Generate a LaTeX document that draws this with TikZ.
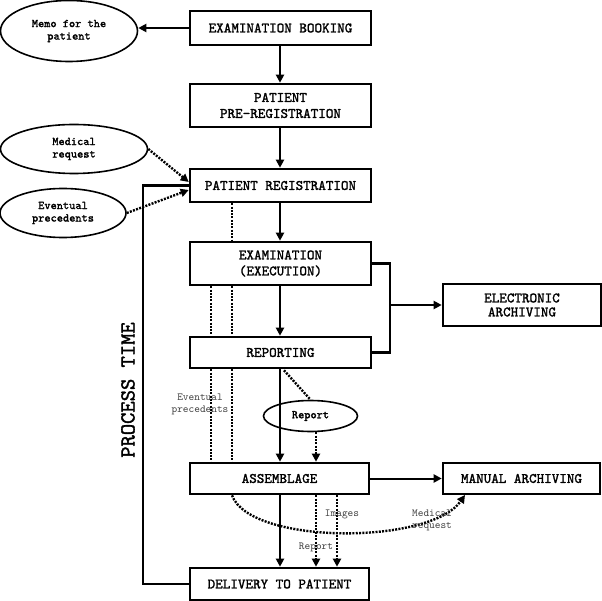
\documentclass[tikz,border=0pt]{standalone}
\usepackage{fontspec}
\newfontfamily\courb{lmmono10-regular}[Extension=.otf,FakeBold=1.6]
\newfontfamily\courr{lmmono10-regular}[Extension=.otf]
\usetikzlibrary{arrows.meta,shapes.geometric,calc}
\tikzset{
  box/.style={draw,line width=2.6pt,rectangle,inner sep=0pt,align=center,
    font=\courb\fontsize{14.4}{16}\selectfont},
  oval/.style={draw,line width=1.6pt,ellipse,inner sep=0pt,align=center,
    font=\courb\fontsize{11.8}{12.5}\selectfont},
  lbl/.style={inner sep=0pt,align=center,text=black!75,
    font=\courr\fontsize{10.8}{12}\selectfont},
  arr/.style={line width=2pt,-{Triangle[length=8pt,width=8pt]}},
  solid line/.style={line width=2.6pt},
  dotline/.style={line width=2.4pt,dash pattern=on 2pt off 1.3pt},
  dotarr/.style={dotline,-{Triangle[length=8pt,width=8pt]}},
}
\begin{document}
\begin{tikzpicture}[x=1pt,y=-1pt]
\useasboundingbox[fill=white] (0,0) rectangle (602,601);
% boxes
\node[box,minimum width=181,minimum height=34] (book) at (280.5,28) {EXAMINATION BOOKING};
\node[box,minimum width=181,minimum height=43] (prereg) at (280.5,105.5) {PATIENT\\PRE-REGISTRATION};
\node[box,minimum width=181,minimum height=33] (reg) at (280.5,185.5) {PATIENT REGISTRATION};
\node[box,minimum width=181,minimum height=43] (exam) at (280.5,263.5) {EXAMINATION\\(EXECUTION)};
\node[box,minimum width=181,minimum height=31] (rep) at (280.5,352.5) {REPORTING};
\node[box,minimum width=179,minimum height=31] (asm) at (279.5,478.5) {ASSEMBLAGE};
\node[box,minimum width=179,minimum height=32] (del) at (279.5,584) {DELIVERY TO PATIENT};
\node[box,minimum width=158,minimum height=42,font=\courb\fontsize{14.4}{14}\selectfont] (elec) at (522,305) {ELECTRONIC\\ARCHIVING};
\node[box,minimum width=157,minimum height=31] (man) at (521.5,478.5) {MANUAL ARCHIVING};
% ellipses
\node[oval,minimum width=137,minimum height=61] (memo) at (69,31) {Memo for the\\patient};
\node[oval,minimum width=147,minimum height=49] (medreq) at (74,149) {Medical\\request};
\node[oval,minimum width=126,minimum height=49] (evprec) at (63,213) {Eventual\\precedents};
\node[oval,minimum width=94,minimum height=31] (report) at (310.5,416) {Report};
% helper x positions
\coordinate (xa) at (211,0);
\coordinate (xb) at (232,0);
\coordinate (xc) at (280,0);
\coordinate (xd) at (316,0);
\coordinate (xe) at (337,0);
\coordinate (bus) at (390,305);
\coordinate (retx) at (143,0);
% main flow
\draw[arr] (book.west) -- (book.west -| memo.east);
\draw[arr] (book.south -| xc) -- (prereg.north -| xc);
\draw[arr] (prereg.south -| xc) -- (reg.north -| xc);
\draw[arr] (reg.south -| xc) -- (exam.north -| xc);
\draw[arr] (exam.south -| xc) -- (rep.north -| xc);
\draw[arr] (rep.south -| xc) -- (asm.north -| xc);
\draw[arr] (asm.south -| xc) -- (del.north -| xc);
% inputs to registration
\draw[dotarr] (medreq.east) -- ($(reg.west)+(0,-3.5)$);
\draw[dotarr] (evprec.east) -- ($(reg.west)+(0,4.5)$);
% return line
\draw[solid line] (del.west) -- (del.west -| retx) |- (reg.west);
\node[font=\courb\fontsize{21.5}{21.5}\selectfont,rotate=90,inner sep=0pt] (ptime) at (128,390) {PROCESS TIME};
% archive bus
\draw[solid line] (exam.east) -| (bus) |- (rep.east);
\draw[arr] (bus) -- (elec.west);
\draw[arr] (asm.east) -- (man.west);
% dotted verticals
\draw[dotline] (reg.south -| xb) -- (exam.north -| xb);
\draw[dotline] (exam.south -| xa) -- (rep.north -| xa);
\draw[dotline] (exam.south -| xb) -- (rep.north -| xb);
\draw[dotline] (rep.south -| xa) -- (asm.north -| xa);
\draw[dotline] (rep.south -| xb) -- (asm.north -| xb);
\node[lbl] (evlbl) at (200,404) {Eventual\\precedents};
% report
\draw[dotline] ($(rep.south)+(3.5,1)$) -- (report.north);
\draw[dotarr] (report.south -| xd) -- (asm.north -| xd);
% assemblage to delivery
\draw[dotarr] (asm.south -| xd) -- (del.north -| xd);
\draw[dotarr] (asm.south -| xe) -- (del.north -| xe);
\node[lbl] (imglbl) at (342,514) {Images};
\node[lbl] (replbl) at (316,547) {Report};
% medical request curve
\coordinate (mtip) at (465,495);
\draw[dotarr] (asm.south -| xb) .. controls (250,545) and (430,545) .. (mtip);
\node[lbl] (mrlbl) at (432,520) {Medical\\request};
\end{tikzpicture}
\end{document}
